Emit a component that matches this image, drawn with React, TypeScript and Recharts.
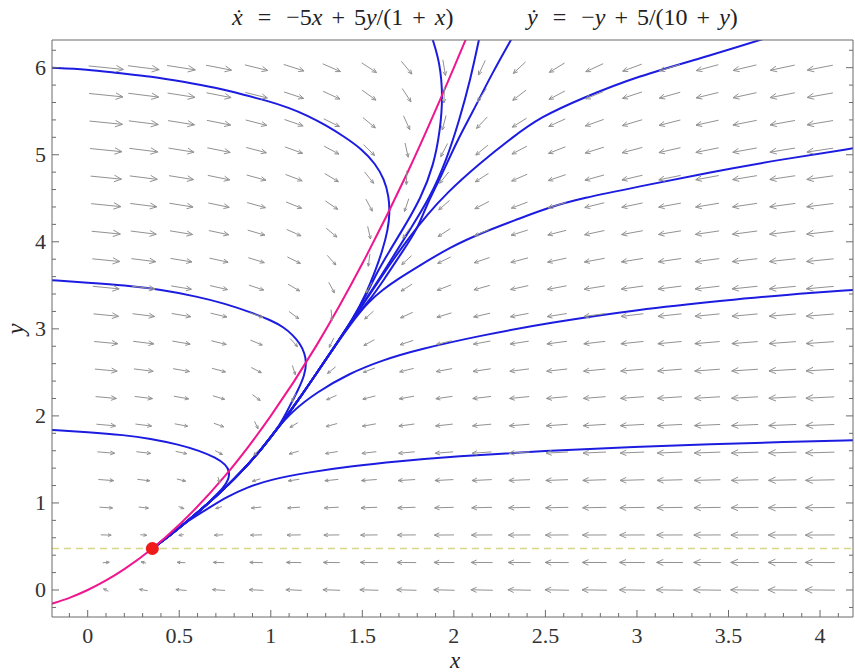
import React from "react"
import { ComposedChart, XAxis, YAxis, Line, Scatter, ReferenceLine } from "recharts"

// Phase portrait of  x' = -5x + 5y/(1+x),  y' = -y + 5/(10+y)

const WIDTH = 855
const HEIGHT = 672
// plot frame: left 52, right 853, top 40, bottom 617 (margins plus axis sizes)
const MARGIN = { top: 20, right: 0, bottom: 15, left: 8 }
const AX_TOP = 20
const AX_BOTTOM = 40
const AX_LEFT = 44
const AX_RIGHT = 2
const PLOT_W = WIDTH - MARGIN.left - MARGIN.right - AX_LEFT - AX_RIGHT
const PLOT_H = HEIGHT - MARGIN.top - MARGIN.bottom - AX_TOP - AX_BOTTOM

const X_DOMAIN: [number, number] = [-0.195, 4.18]
const Y_DOMAIN: [number, number] = [-0.31, 6.318]

const SERIF = "Liberation Serif, Times New Roman, Times, serif"
const FRAME = "#6b6b6b"
const LABEL = "#333"
const BLUE = "#1c1ce0"
const MAGENTA = "#f0168e"

// tick labels
const xMajor = [0, 0.5, 1, 1.5, 2, 2.5, 3, 3.5, 4]
const yMajor = [0, 1, 2, 3, 4, 5, 6]
const xTicks = Array.from({ length: 43 }, (_, i) => (i - 1) / 10)
const yTicks = Array.from({ length: 33 }, (_, i) => ((i - 1) * 2) / 10)

// sample grid of the direction field
const fieldX = [0.1, 0.305, 0.511, 0.716, 0.921, 1.126, 1.332, 1.537, 1.742, 1.947, 2.153, 2.358, 2.563, 2.768, 2.974, 3.179, 3.384, 3.589, 3.795, 4.0]
const fieldY = [0, 0.316, 0.632, 0.947, 1.263, 1.579, 1.895, 2.211, 2.526, 2.842, 3.158, 3.474, 3.789, 4.105, 4.421, 4.737, 5.053, 5.368, 5.684, 6.0]

// equilibrium and the y-nullcline level
const equilibrium = [0.353, 0.477]
const yNullLevel = 0.477

// x-nullcline
const xNullcline = [
  [-0.2, -0.16], [-0.1, -0.09], [0, 0], [0.1, 0.11], [0.2, 0.24], [0.353, 0.477], [0.5, 0.75],
  [0.75, 1.31], [1.0, 2.0], [1.25, 2.81], [1.5, 3.75], [1.75, 4.81], [2.0, 6.0], [2.07, 6.35],
]

// common approach to the equilibrium along the slow direction
const slowTail = [
  [1.45, 3.12], [1.35, 2.8], [1.25, 2.49], [1.15, 2.18], [1.05, 1.89], [0.95, 1.62], [0.85, 1.38],
  [0.75, 1.17], [0.65, 0.98], [0.55, 0.8], [0.45, 0.63], [0.353, 0.477],
]

const orbitTopLeft = [
  [-0.2, 6.0], [0, 5.98], [0.16, 5.94], [0.35, 5.9], [0.52, 5.84], [0.7, 5.77], [0.85, 5.69],
  [0.98, 5.62], [1.1, 5.54], [1.2, 5.45], [1.3, 5.34], [1.4, 5.21], [1.5, 5.06], [1.57, 4.9],
  [1.62, 4.72], [1.645, 4.52], [1.65, 4.33], [1.64, 4.14], [1.61, 3.9], [1.57, 3.66], [1.52, 3.4],
]
const orbitMidLeft = [
  [-0.2, 3.56], [0, 3.53], [0.2, 3.5], [0.4, 3.45], [0.6, 3.37], [0.75, 3.29], [0.89, 3.19],
  [1.0, 3.1], [1.07, 3.02], [1.12, 2.93], [1.16, 2.83], [1.185, 2.72], [1.195, 2.61],
  [1.185, 2.47], [1.15, 2.3], [1.1, 2.1],
]
const orbitLowLeft = [
  [-0.2, 1.84], [0, 1.815], [0.2, 1.78], [0.34, 1.74], [0.5, 1.67], [0.61, 1.6], [0.7, 1.52],
  [0.755, 1.44], [0.775, 1.36], [0.77, 1.27], [0.74, 1.17], [0.69, 1.07],
]
const orbitTopA = [
  [1.88, 6.35], [1.925, 6.05], [1.94, 5.66], [1.925, 5.28], [1.89, 4.88], [1.82, 4.5],
  [1.72, 4.14], [1.65, 3.9], [1.58, 3.65], [1.52, 3.38],
]
const orbitTopB = [
  [2.14, 6.35], [2.09, 5.86], [2.03, 5.4], [1.96, 4.94], [1.87, 4.51], [1.76, 4.14],
  [1.68, 3.87], [1.6, 3.6], [1.52, 3.34],
]
const orbitTopC = [
  [2.32, 6.35], [2.21, 5.94], [2.1, 5.48], [2.02, 5.17], [1.93, 4.75], [1.85, 4.42],
  [1.8, 4.14], [1.71, 3.86], [1.62, 3.57], [1.53, 3.3],
]
const orbitTopD = [
  [3.72, 6.35], [3.4, 6.14], [3.0, 5.9], [2.7, 5.65], [2.47, 5.43], [2.32, 5.2], [2.14, 4.9],
  [1.96, 4.56], [1.85, 4.3], [1.76, 4.06], [1.67, 3.8], [1.58, 3.52], [1.5, 3.27],
]
const orbitRightHigh = [
  [4.2, 5.08], [3.8, 4.95], [3.4, 4.8], [3.0, 4.63], [2.7, 4.5], [2.525, 4.4], [2.35, 4.26],
  [2.16, 4.11], [1.98, 3.94], [1.8, 3.71], [1.7, 3.58], [1.61, 3.45], [1.53, 3.3], [1.47, 3.15],
]
const orbitRightMid = [
  [4.2, 3.45], [3.8, 3.39], [3.5, 3.33], [3.0, 3.22], [2.525, 3.07], [2.16, 2.93], [1.8, 2.76],
  [1.61, 2.64], [1.43, 2.49], [1.25, 2.27], [1.12, 2.06], [1.02, 1.82],
]
const orbitRightLow = [
  [4.2, 1.72], [3.8, 1.7], [3.4, 1.675], [3.0, 1.645], [2.5, 1.6], [2.0, 1.535], [1.7, 1.48],
  [1.43, 1.42], [1.2, 1.35], [1.0, 1.27], [0.87, 1.18], [0.76, 1.07], [0.66, 0.94],
]

const tailFrom = (x: number) => slowTail.filter((p) => p[0] <= x + 1e-9)
const pts = (arr: number[][]) => arr.map(([x, y]) => ({ x, y }))

const orbits = [
  [...orbitTopLeft, ...tailFrom(1.45)],
  [...orbitMidLeft, ...tailFrom(1.05)],
  [...orbitLowLeft, ...tailFrom(0.65)],
  [...orbitTopA, ...tailFrom(1.45)],
  [...orbitTopB, ...tailFrom(1.45)],
  [...orbitTopC, ...tailFrom(1.45)],
  [...orbitTopD, ...tailFrom(1.45)],
  [...orbitRightHigh, ...tailFrom(1.35)],
  [...orbitRightMid, ...tailFrom(0.95)],
  [...orbitRightLow, ...tailFrom(0.55)],
].map(pts)

// right-hand side of the system as printed in the title
const xDot = (x: number, y: number) => -5 * x + (5 * y) / (1 + x)
const yDot = (x: number, y: number) => -y + 5 / (10 + y)

const fieldPoints = fieldY.flatMap((y) => fieldX.map((x) => ({ x, y })))
const maxSpeed = Math.max(...fieldPoints.map((p) => Math.hypot(xDot(p.x, p.y), yDot(p.x, p.y))))

const PX_X = PLOT_W / (X_DOMAIN[1] - X_DOMAIN[0])
const PX_Y = PLOT_H / (Y_DOMAIN[1] - Y_DOMAIN[0])
const ARROW_MAX = 35

function FieldArrow(props: any) {
  const { cx, cy, payload } = props
  if (cx == null || cy == null) return null
  const u = xDot(payload.x, payload.y)
  const v = yDot(payload.x, payload.y)
  const speed = Math.hypot(u, v)
  const dx = u * PX_X
  const dy = -v * PX_Y
  const n = Math.hypot(dx, dy) || 1
  const ux = dx / n
  const uy = dy / n
  const len = Math.max(5, ARROW_MAX * Math.sqrt(speed / maxSpeed))
  const x0 = cx - (ux * len) / 2
  const y0 = cy - (uy * len) / 2
  const x1 = cx + (ux * len) / 2
  const y1 = cy + (uy * len) / 2
  const head = Math.max(3.5, Math.min(8, len * 0.28))
  const a = 0.42
  const bx = -ux
  const by = -uy
  const h1x = x1 + head * (bx * Math.cos(a) - by * Math.sin(a))
  const h1y = y1 + head * (bx * Math.sin(a) + by * Math.cos(a))
  const h2x = x1 + head * (bx * Math.cos(-a) - by * Math.sin(-a))
  const h2y = y1 + head * (bx * Math.sin(-a) + by * Math.cos(-a))
  return (
    <g stroke="#929292" strokeWidth={1} fill="none">
      <line x1={x0} y1={y0} x2={x1} y2={y1} />
      <polyline points={`${h1x},${h1y} ${x1},${y1} ${h2x},${h2y}`} />
    </g>
  )
}

const isMajor = (v: number, majors: number[]) => majors.some((m) => Math.abs(m - v) < 1e-6)

function BottomTick({ x, y, payload }: any) {
  const major = isMajor(payload.value, xMajor)
  return (
    <g>
      <line x1={x} x2={x} y1={y} y2={y - (major ? 7 : 4)} stroke={FRAME} />
      {major && (
        <text x={x} y={y + 26} textAnchor="middle" fontSize={22} fill={LABEL} fontFamily={SERIF}>
          {payload.value}
        </text>
      )}
    </g>
  )
}

function TopTick({ x, y, payload }: any) {
  const major = isMajor(payload.value, xMajor)
  return <line x1={x} x2={x} y1={y} y2={y + (major ? 7 : 4)} stroke={FRAME} />
}

function LeftTick({ x, y, payload }: any) {
  const major = isMajor(payload.value, yMajor)
  return (
    <g>
      <line x1={x} x2={x + (major ? 7 : 4)} y1={y} y2={y} stroke={FRAME} />
      {major && (
        <text x={x - 6} y={y + 7} textAnchor="end" fontSize={22} fill={LABEL} fontFamily={SERIF}>
          {payload.value}
        </text>
      )}
    </g>
  )
}

function RightTick({ x, y, payload }: any) {
  const major = isMajor(payload.value, yMajor)
  return <line x1={x} x2={x - (major ? 7 : 4)} y1={y} y2={y} stroke={FRAME} />
}

const EquilibriumDot = ({ cx, cy }: any) => <circle cx={cx} cy={cy} r={6.5} fill="#f01a1a" />

const axisCommon = {
  type: "number" as const,
  allowDataOverflow: true,
  interval: 0 as const,
  tickSize: 0,
  tickMargin: 0,
  tickLine: false,
  axisLine: { stroke: FRAME },
}

const it = { fontStyle: "italic" as const }

export default function App() {
  return (
    <div style={{ position: "absolute", left: 0, top: 0, width: WIDTH, height: HEIGHT, background: "#fff" }}>
      <ComposedChart width={WIDTH} height={HEIGHT} margin={MARGIN}>
        <XAxis xAxisId="b" dataKey="x" domain={X_DOMAIN} ticks={xTicks} height={AX_BOTTOM}
          tick={<BottomTick />} {...axisCommon} />
        <XAxis xAxisId="t" orientation="top" domain={X_DOMAIN} ticks={xTicks} height={AX_TOP}
          tick={<TopTick />} {...axisCommon} />
        <YAxis yAxisId="l" dataKey="y" domain={Y_DOMAIN} ticks={yTicks} width={AX_LEFT}
          tick={<LeftTick />} {...axisCommon} />
        <YAxis yAxisId="r" orientation="right" domain={Y_DOMAIN} ticks={yTicks} width={AX_RIGHT}
          tick={<RightTick />} {...axisCommon} />

        <Scatter xAxisId="b" yAxisId="l" data={fieldPoints} shape={<FieldArrow />} isAnimationActive={false} />

        <ReferenceLine xAxisId="b" yAxisId="l" y={yNullLevel} stroke="#d6d68c" strokeWidth={1.3} strokeDasharray="7 5" />

        {orbits.map((d, i) => (
          <Line key={i} xAxisId="b" yAxisId="l" data={d} dataKey="y" type="basis" stroke={BLUE}
            strokeWidth={2} dot={false} activeDot={false} isAnimationActive={false} />
        ))}

        <Line xAxisId="b" yAxisId="l" data={pts(xNullcline)} dataKey="y" type="monotone" stroke={MAGENTA}
          strokeWidth={2} dot={false} activeDot={false} isAnimationActive={false} />

        <Scatter xAxisId="b" yAxisId="l" data={[{ x: equilibrium[0], y: equilibrium[1] }]}
          shape={<EquilibriumDot />} isAnimationActive={false} />
      </ComposedChart>

      {/* title and axis names */}
      <svg width={WIDTH} height={HEIGHT} style={{ position: "absolute", left: 0, top: 0, pointerEvents: "none" }}>
        <g fontFamily={SERIF} fontSize={24} fill="#222" style={{ wordSpacing: 3 }}>
          <text x={232} y={25}>
            <tspan style={it}>ẋ</tspan>
            <tspan dx={6}> = </tspan>
            <tspan dx={6}>−5</tspan>
            <tspan style={it}>x</tspan>
            <tspan> + 5</tspan>
            <tspan style={it}>y</tspan>
            <tspan>/(1 + </tspan>
            <tspan style={it}>x</tspan>
            <tspan>)</tspan>
          </text>
          <text x={527} y={25}>
            <tspan style={it}>ẏ</tspan>
            <tspan dx={6}> = </tspan>
            <tspan dx={6}>−</tspan>
            <tspan style={it}>y</tspan>
            <tspan> + 5/(10 + </tspan>
            <tspan style={it}>y</tspan>
            <tspan>)</tspan>
          </text>
        </g>
        <text x={455} y={668} textAnchor="middle" fontFamily={SERIF} fontSize={23} fontStyle="italic" fill="#222">
          x
        </text>
        <text x={24} y={329} textAnchor="middle" fontFamily={SERIF} fontSize={25} fontStyle="italic" fill="#222"
          transform="rotate(-90 24 329)">
          y
        </text>
      </svg>
    </div>
  )
}
